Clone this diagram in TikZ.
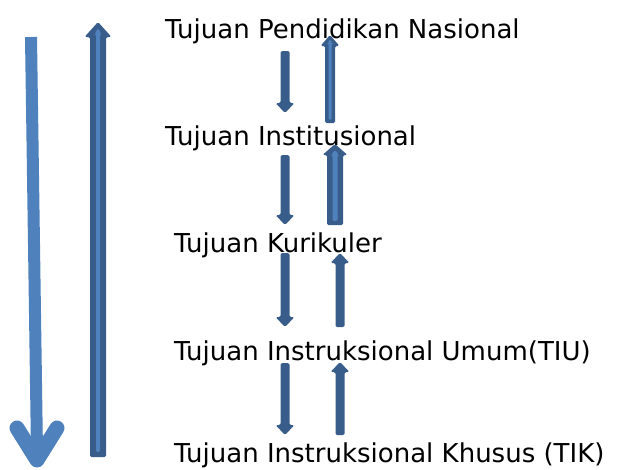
\documentclass[tikz,border=0pt]{standalone}
\usepackage{fontspec}
\setmainfont{DejaVu Sans}
\definecolor{lightblue}{HTML}{4F81BD}
\definecolor{darkblue}{HTML}{385D8A}

% panah blok: gaya, x, ujung ekor, ujung kepala, lebar batang, lebar kepala, panjang kepala
\newcommand{\panah}[7]{%
    \pgfmathsetmacro{\pnhs}{sign(#4-#3)}%
    \pgfmathsetmacro{\pnhy}{#4-\pnhs*#7}%
    \fill[#1, rounded corners=1.5pt] (#2-#5/2,#3) -- (#2-#5/2,\pnhy) -- (#2-#6/2,\pnhy)
        -- (#2,#4) -- (#2+#6/2,\pnhy) -- (#2+#5/2,\pnhy) -- (#2+#5/2,#3) -- cycle;}

\begin{document}
\begin{tikzpicture}[x=1pt, y=-1pt,
    level/.style={anchor=base west, inner sep=0pt, font=\fontsize{26}{28}\selectfont}]
    \useasboundingbox (0,0) rectangle (618,469);

    % Teks tingkat tujuan
    \node[level] (nasional) at (165,38) {Tujuan Pendidikan Nasional};
    \node[level] (institusional) at (165,145) {Tujuan Institusional};
    \node[level] (kurikuler) at (174,252) {Tujuan Kurikuler};
    \node[level] (tiu) at (174,360) {Tujuan Instruksional Umum(TIU)};
    \node[level] (tik) at (174,462) {Tujuan Instruksional Khusus (TIK)};

    % Panah besar
    \draw[lightblue, line width=12pt] (31,37) -- (37,452);
    \draw[lightblue, line width=15pt, line cap=round, line join=round]
        (17,428) -- (37,460) -- (57,428);
    \panah{darkblue}{98}{457}{22}{16}{27}{15}
    \panah{lightblue}{98}{452}{28}{4}{7}{6}

    % Panah turun
    \panah{darkblue}{285}{51}{113}{9}{19}{10}
    \panah{darkblue}{285}{155}{225}{9}{19}{10}
    \panah{darkblue}{285}{253}{327}{9}{19}{10}
    \panah{darkblue}{285}{363}{435}{9}{19}{10}

    % Panah naik
    \panah{darkblue}{330}{123}{35}{10}{19}{11}
    \panah{lightblue}{330}{120}{39}{3}{5}{4}
    \panah{darkblue}{335}{225}{144}{16}{25}{11}
    \panah{lightblue}{335}{221}{150}{5}{8}{5}
    \panah{darkblue}{340}{327}{253}{9}{19}{10}
    \panah{darkblue}{340}{435}{362}{9}{19}{10}
\end{tikzpicture}
\end{document}
